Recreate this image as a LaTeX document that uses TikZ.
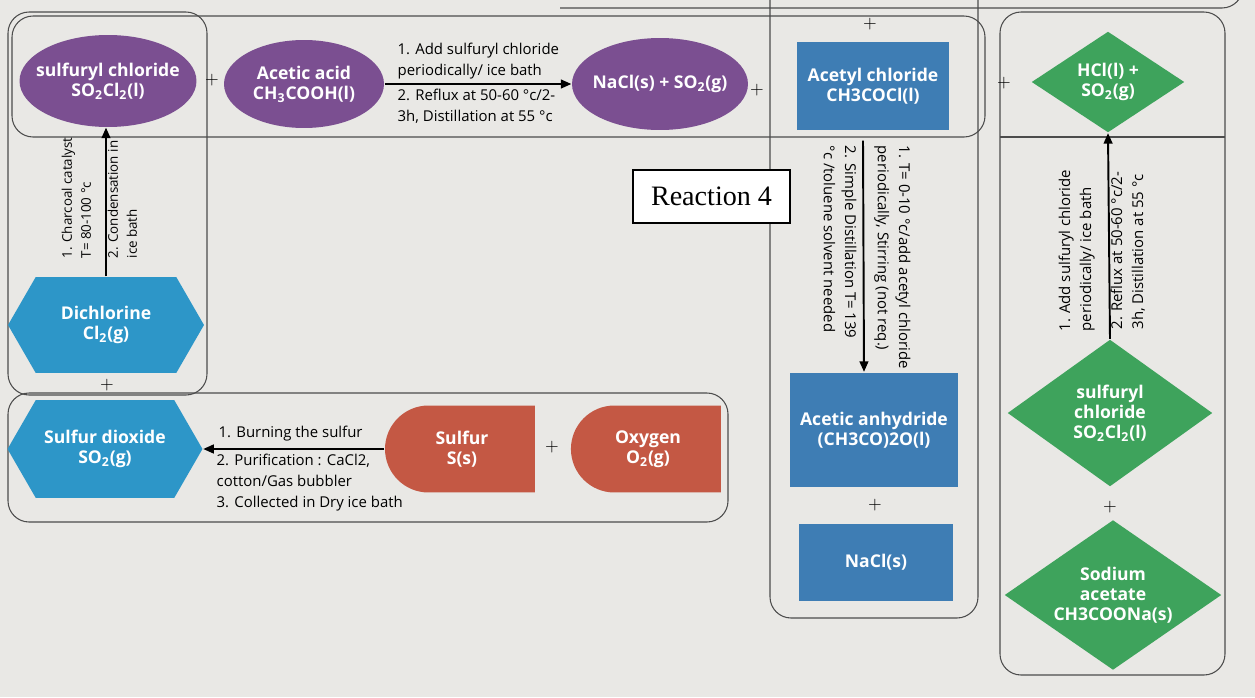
\documentclass[tikz,border=0pt]{standalone}
\usepackage{fontspec}
\setsansfont{Open Sans}
\newfontfamily\rxnfont{Liberation Serif}
\usetikzlibrary{arrows.meta,shapes.geometric,shapes.misc,shapes.symbols}
\definecolor{paper}{RGB}{233,232,229}
\definecolor{acidpurple}{RGB}{123,79,145}
\definecolor{chlorblue}{RGB}{62,125,180}
\definecolor{gasblue}{RGB}{45,150,200}
\definecolor{saltgreen}{RGB}{62,163,92}
\definecolor{sulfurred}{RGB}{196,88,68}
\tikzset{every picture/.style={line width=0.75pt}}
\tikzset{
  frame/.style={draw=black!70, line width=0.6pt, rounded corners=12pt},
  species/.style={text=white, inner sep=0pt, align=center,
    font=\sffamily\bfseries\fontsize{10}{11.5}\selectfont},
  purplenode/.style={species, ellipse, inner xsep=-10pt, fill=acidpurple},
  bluebox/.style={species, rectangle, fill=chlorblue},
  hexnode/.style={species, signal, signal to=east and west, signal pointer angle=120, fill=gasblue},
  greennode/.style={species, diamond, fill=saltgreen},
  rednode/.style={species, rounded rectangle, rounded rectangle right arc=none, fill=sulfurred},
  cond/.style={inner sep=0pt, align=left, font=\sffamily\fontsize{8.5}{12}\selectfont},
  smallcond/.style={cond, font=\sffamily\fontsize{7.6}{10.8}\selectfont},
  plus/.style={inner sep=0pt, font=\fontsize{10}{10}\selectfont},
  react/.style={-{Triangle[length=6pt,width=5pt]}, line width=1.1pt}
}

\begin{document}
\begin{tikzpicture}[x=0.02cm, y=-0.02cm]
    \useasboundingbox (0,0) rectangle (1255,697);
    \fill[paper] (0,0) rectangle (1255,697);
    \clip (0,0) rectangle (1255,697);
    % frames
    \draw[frame] (560,8) -- (1243,8) -- (1243,-60);
    \draw[frame] (8,12) rectangle (207,395);
    \draw[frame] (12,16) rectangle (985,137);
    \draw[frame] (8,393) rectangle (728,522);
    \draw[frame] (770,-30) rectangle (978,618);
    \draw[frame] (1000,12) rectangle (1225,675);
    \draw[draw=black!70, line width=0.6pt] (1000,137) -- (1225,137);

    % top row
    \node[purplenode, minimum width=3.54cm, minimum height=1.84cm] (sulfA) at (108,81) {sulfuryl chloride\\SO\textsubscript{2}Cl\textsubscript{2}(l)};
    \node[plus] (p1) at (212,80) {+};
    \node[purplenode, minimum width=3.2cm, minimum height=1.76cm] (acid) at (304,84) {Acetic acid\\CH\textsubscript{3}COOH(l)};
    \node[purplenode, minimum width=3.52cm, minimum height=1.84cm] (nacl) at (660,84) {NaCl(s) + SO\textsubscript{2}(g)};
    \node[plus] (p2) at (757,90) {+};
    \node[plus] (p3) at (870,24) {+};
    \node[bluebox, minimum width=3.06cm, minimum height=1.76cm] (acetyl) at (873,86) {Acetyl chloride\\CH3COCl(l)};
    \node[plus] (p4) at (1004,83) {+};
    \node[greennode, minimum width=3.06cm, minimum height=2.02cm, shape aspect=1.5] (hcl) at (1108,82) {HCl(l) +\\SO\textsubscript{2}(g)};
    \draw[react] (acid.east) -- (nacl.west);
    \node[cond, anchor=south west] (c1) at (397,80) {1. Add sulfuryl chloride\\periodically/ ice bath};
    \node[cond, anchor=north west] (c2) at (397,88) {2. Reflux at 50-60 °c/2-\\3h, Distillation at 55 °c};

    % left column
    \node[hexnode, minimum width=3.92cm, minimum height=1.92cm] (dichl) at (106,325) {Dichlorine\\Cl\textsubscript{2}(g)};
    \draw[react] (dichl.north) -- (dichl.north |- sulfA.south);
    \node[smallcond, rotate=90, anchor=north west] (c3) at (61,259) {1. Charcoal catalyst\\T= 80-100 °c};
    \node[smallcond, rotate=90, anchor=north west] (c4) at (107,259) {2. Condensation in\\ice bath};
    \node[plus] (p5) at (107,385) {+};

    % bottom row
    \node[hexnode, minimum width=3.9cm, minimum height=1.96cm] (so2) at (105,449) {Sulfur dioxide\\SO\textsubscript{2}(g)};
    \node[rednode, minimum width=3.0cm, minimum height=1.74cm] (sulfur) at (462,449) {Sulfur\\S(s)};
    \node[plus] (p6) at (552,447) {+};
    \node[rednode, minimum width=3.0cm, minimum height=1.74cm] (oxy) at (648,449) {Oxygen\\O\textsubscript{2}(g)};
    \draw[react] (sulfur.west) -- (so2.east);
    \node[cond, anchor=south west] (c5) at (218,442) {1. Burning the sulfur};
    \node[cond, anchor=north west] (c6) at (216,453) {2. Purification : CaCl2,\\cotton/Gas bubbler\\3. Collected in Dry ice bath};

    % middle column
    \node[bluebox, minimum width=3.36cm, minimum height=2.3cm] (anhyd) at (874,430) {Acetic anhydride\\(CH3CO)2O(l)};
    \draw[react] ([xshift=-0.2cm, yshift=-0.2cm]acetyl.south) -- ([xshift=-0.2cm]anhyd.north);
    \node[cond, rotate=-90, anchor=north west] (c7) at (911,145) {1. T= 0-10 °c/add acetyl chloride\\periodically, Stirring (not req.)};
    \node[cond, rotate=-90, anchor=north west] (c8) at (857,145) {2. Simple Distillation T= 139\\°c /toluene solvent needed};
    \node[plus] (p7) at (875,505) {+};
    \node[bluebox, minimum width=3.1cm, minimum height=1.54cm] (naclB) at (876,562) {NaCl(s)};

    % right column
    \node[greennode, minimum width=4.1cm, minimum height=2.94cm, shape aspect=1.4] (sulfB) at (1110,413) {sulfuryl\\chloride\\SO\textsubscript{2}Cl\textsubscript{2}(l)};
    \draw[react] (sulfB.north) -- (hcl.south);
    \node[cond, rotate=90, anchor=north west] (c9) at (1058,332) {1. Add sulfuryl chloride\\periodically/ ice bath};
    \node[cond, rotate=90, anchor=north west] (c10) at (1110,330) {2. Reflux at 50-60 °c/2-\\3h, Distillation at 55 °c};
    \node[plus] (p8) at (1110,507) {+};
    \node[greennode, minimum width=4.34cm, minimum height=3.0cm, shape aspect=1.45] (acetate) at (1113,595) {Sodium\\acetate\\CH3COONa(s)};

    % label
    \node[draw=black, fill=white, line width=0.8pt, minimum width=3.14cm, minimum height=1.06cm,
          font=\rxnfont\fontsize{16}{16}\selectfont] (rxn) at (711.5,196.5) {Reaction 4};
\end{tikzpicture}
\end{document}
